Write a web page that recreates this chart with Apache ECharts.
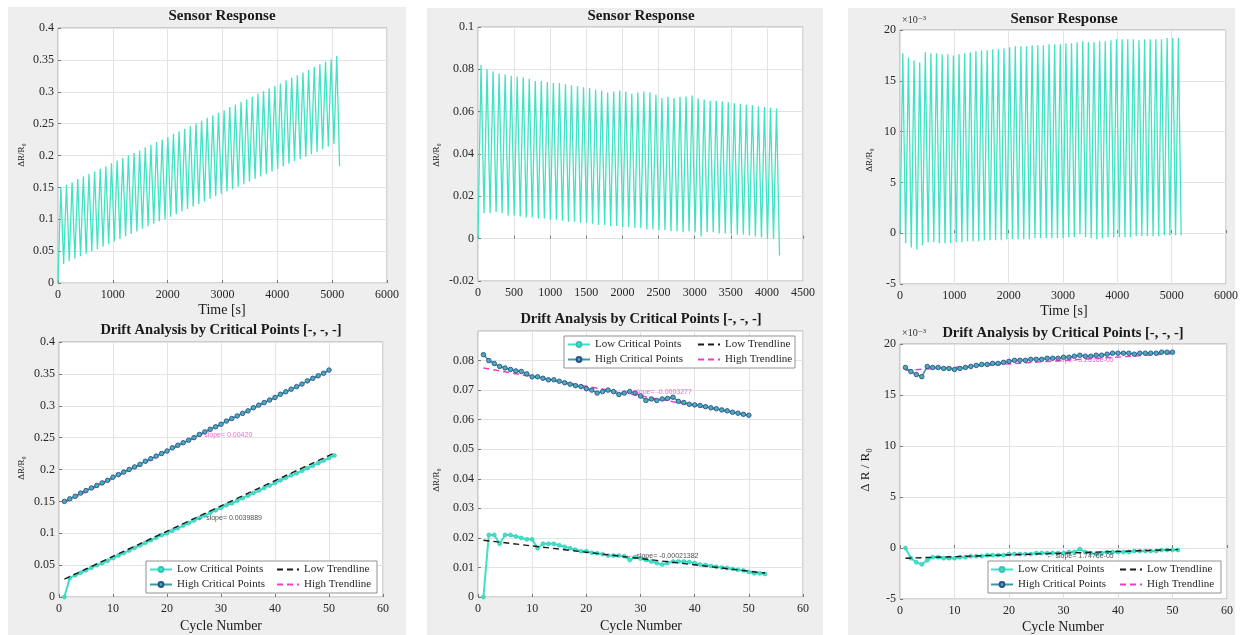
<!DOCTYPE html>
<html><head><meta charset="utf-8">
<script src="https://cdn.jsdelivr.net/npm/echarts@6/dist/echarts.min.js"></script>
<style>
html,body{margin:0;padding:0;background:#fff;width:1241px;height:635px;overflow:hidden}
.panel{position:absolute;background:#eeeeee}
#chart{position:absolute;left:0;top:0;width:1241px;height:635px}
</style></head><body>
<div class="panel" style="left:8px;top:7px;width:398px;height:628px"></div>
<div class="panel" style="left:427px;top:8px;width:396px;height:627px"></div>
<div class="panel" style="left:848px;top:8px;width:387px;height:627px"></div>
<div id="chart"></div>
<script>
// ---------- DATA ----------
// Sensor 1 (left column): high / low critical points per cycle
const leftHigh = [0.150,0.154,0.158,0.163,0.167,0.171,0.175,0.179,0.183,0.188,
 0.192,0.196,0.200,0.204,0.208,0.213,0.217,0.221,0.225,0.229,
 0.234,0.238,0.242,0.246,0.250,0.255,0.259,0.263,0.267,0.271,
 0.276,0.280,0.284,0.288,0.292,0.297,0.301,0.305,0.309,0.313,
 0.318,0.322,0.326,0.330,0.334,0.339,0.343,0.347,0.351,0.356];
const leftLow = [0.000,0.030,0.034,0.038,0.042,0.046,0.050,0.053,0.057,0.061,
 0.065,0.069,0.073,0.077,0.081,0.085,0.089,0.093,0.097,0.100,
 0.104,0.108,0.112,0.116,0.120,0.124,0.128,0.132,0.136,0.140,
 0.144,0.147,0.151,0.155,0.159,0.163,0.167,0.171,0.175,0.179,
 0.183,0.187,0.191,0.194,0.198,0.202,0.206,0.210,0.214,0.218,
 0.222];
const leftPeriod = 102.7;      // s per cycle
const leftEndValue = 0.183;    // last sample of the response
const leftLowTrend = [[1, 0.028], [51, 0.226]];
const leftHighTrend = [[1, 0.148], [50, 0.355]];
const leftNotes = [[26.8, 0.2535, 'slope= 0.00420'], [25.5, 0.124, '\u2190 slope= 0.0039889']];

// Sensor 2 (middle column)
const midHigh = [0.0820,0.0800,0.0790,0.0780,0.0775,0.0770,0.0765,0.0763,0.0755,0.0745,
 0.0745,0.0740,0.0735,0.0735,0.0730,0.0725,0.0720,0.0715,0.0712,0.0705,
 0.0700,0.0690,0.0695,0.0700,0.0695,0.0685,0.0690,0.0695,0.0690,0.0680,
 0.0665,0.0670,0.0665,0.0670,0.0672,0.0676,0.0662,0.0658,0.0652,0.0650,
 0.0648,0.0644,0.0640,0.0637,0.0633,0.0630,0.0625,0.0622,0.0618,0.0615];
const midLow = [0.0000,0.0210,0.0210,0.0180,0.0210,0.0210,0.0205,0.0200,0.0195,0.0195,
 0.0165,0.0180,0.0180,0.0180,0.0175,0.0170,0.0165,0.0160,0.0155,0.0155,
 0.0150,0.0148,0.0145,0.0140,0.0140,0.0140,0.0138,0.0125,0.0135,0.0130,
 0.0125,0.0120,0.0115,0.0110,0.0115,0.0120,0.0120,0.0120,0.0118,0.0115,
 0.0110,0.0108,0.0105,0.0102,0.0100,0.0098,0.0095,0.0092,0.0090,0.0085,
 0.0080,0.0080,0.0078];
const midTroughs = [0,0.012,0.012,0.0125,0.012,0.011,0.011,0.0105,0.010,0.010,
 0.0095,0.0095,0.009,0.009,0.0085,0.008,0.008,0.0075,0.0075,0.007,
 0.0065,0.0065,0.006,0.006,0.0055,0.0055,0.005,0.005,0.0045,0.0045,
 0.004,0.004,0.0035,0.0035,0.003,0.0035,0.003,0.001,0.003,0.003,
 0.0025,0.0025,0.002,0.002,0.002,0.0015,0.001,0.0005,0.0,0.0,
 -0.008];
const midPeriod = 83.5;
const midLowTrend = [[1, 0.0192], [53, 0.0081]];
const midHighTrend = [[1, 0.0775], [50, 0.0615]];
const midNotes = [[27, 0.0693, '\u2190 slope= -0.0003277'], [27.5, 0.0138, '\u2190 slope= -0.00021382']];

// Sensor 3 (right column), values in units of 1e-3
const rightHigh = [17.7,17.3,17.0,16.8,17.8,17.7,17.7,17.6,17.6,17.5,
 17.6,17.7,17.8,17.9,18.0,18.0,18.1,18.1,18.2,18.3,
 18.4,18.4,18.4,18.5,18.5,18.5,18.6,18.6,18.6,18.7,
 18.7,18.8,18.9,18.8,18.8,18.9,18.9,19.0,19.1,19.1,
 19.1,19.1,19.0,19.1,19.1,19.1,19.1,19.2,19.2,19.2];
const rightLow = [0.0,-1.0,-1.4,-1.6,-1.2,-0.9,-0.9,-1.0,-1.0,-1.0,
 -0.9,-0.9,-0.8,-0.8,-0.8,-0.7,-0.7,-0.7,-0.7,-0.6,
 -0.6,-0.6,-0.6,-0.6,-0.5,-0.5,-0.5,-0.5,-0.5,-0.5,
 -0.4,-0.4,-0.1,-0.4,-0.5,-0.6,-0.5,-0.4,-0.4,-0.4,
 -0.4,-0.4,-0.3,-0.3,-0.3,-0.3,-0.3,-0.2,-0.2,-0.2,
 -0.2];
const rightPeriod = 103.5;
const rightLowTrend = [[1, -1.0], [51, -0.15]];
const rightHighTrend = [[1, 17.42], [50, 19.05]];
const rightNotes = [[26.8, 18.46, '\u2190 slope= 3.2618e-05'], [26.8, -0.75, '\u2190 slope= 1.7476e-05']];

// Axis ticks [min, max, step]
const topXTicks = [[0, 6000, 1000], [0, 4500, 500], [0, 6000, 1000]];
const topYTicks = [[0, 0.4, 0.05], [-0.02, 0.1, 0.02], [-5, 20, 5]];
const botXTicks = [[0, 60, 10], [0, 60, 10], [0, 60, 10]];
const botYTicks = [[0, 0.4, 0.05], [0, 0.09, 0.01], [-5, 20, 5]];

const topTitle = 'Sensor Response';
const botTitle = 'Drift Analysis by Critical Points [-, -, -]';
const legendNames = ['Low Critical Points', 'High Critical Points', 'Low Trendline', 'High Trendline'];

// ---------- STYLE ----------
const SERIF = '"Liberation Serif","DejaVu Serif",serif';
const C_WAVE = '#40e3c4';
const C_LOW = '#40e0c8';
const C_HIGH_LINE = '#3a9aa6';
const C_HIGH_DOT = '#4aaeb8';
const C_HIGH_EDGE = '#2a4f8c';
const C_MAG = '#f03cc8';

const grids = [
  {left: 58, top: 28, width: 329, height: 255},
  {left: 478, top: 27, width: 325, height: 254},
  {left: 900, top: 30, width: 328, height: 254},
  {left: 59, top: 342, width: 324, height: 255},
  {left: 478, top: 331, width: 325, height: 266},
  {left: 900, top: 344, width: 327, height: 255}
];

function waveform(period, peaks, troughs) {
  const pts = [[0, troughs[0]]];
  for (let k = 0; k < peaks.length; k++) {
    pts.push([(k + 0.5) * period, peaks[k]]);
    if (k + 1 < troughs.length) pts.push([(k + 1) * period, troughs[k + 1]]);
  }
  return pts;
}
const byCycle = arr => arr.map((v, i) => [i + 1, v]);
const fmt = v => String(+(+v).toFixed(6));

const ticksAll = topXTicks.concat(botXTicks);
const yTicksAll = topYTicks.concat(botYTicks);

const xAxes = ticksAll.map((t, i) => ({
  type: 'value', gridIndex: i, min: t[0], max: t[1], interval: t[2],
  axisLine: {show: false},
  axisTick: {show: true, inside: true, length: 3, lineStyle: {color: '#777'}},
  axisLabel: {fontFamily: SERIF, fontSize: 12, color: '#262626', margin: 6, formatter: fmt},
  splitLine: {show: true, lineStyle: {color: '#e3e3e3', width: 1}}
}));
const yAxes = yTicksAll.map((t, i) => ({
  type: 'value', gridIndex: i, min: t[0], max: t[1], interval: t[2],
  axisLine: {show: false},
  axisTick: {show: true, inside: true, length: 3, lineStyle: {color: '#777'}},
  axisLabel: {fontFamily: SERIF, fontSize: 12, color: '#262626', margin: 4, showMaxLabel: i !== 4, formatter: fmt},
  splitLine: {show: true, lineStyle: {color: '#e3e3e3', width: 1}}
}));

const series = [];
// top waveforms
const waves = [
  waveform(leftPeriod, leftHigh, leftLow.slice(0, leftLow.length - 1).concat([leftEndValue])),
  waveform(midPeriod, midHigh, midTroughs),
  waveform(rightPeriod, rightHigh, rightLow)
];
waves.forEach((w, i) => series.push({
  type: 'line', name: 'wave' + i, xAxisIndex: i, yAxisIndex: i, data: w,
  showSymbol: false, symbol: 'none', silent: true,
  lineStyle: {color: C_WAVE, width: 1.3}, z: 2
}));

const sets = [
  {low: leftLow, high: leftHigh, lt: leftLowTrend, ht: leftHighTrend, notes: leftNotes},
  {low: midLow, high: midHigh, lt: midLowTrend, ht: midHighTrend, notes: midNotes},
  {low: rightLow, high: rightHigh, lt: rightLowTrend, ht: rightHighTrend, notes: rightNotes}
];
sets.forEach((s, j) => {
  const gi = j + 3;
  series.push({
    type: 'line', name: legendNames[0], xAxisIndex: gi, yAxisIndex: gi, data: byCycle(s.low),
    symbol: 'circle', symbolSize: 4, showSymbol: true, silent: true,
    lineStyle: {color: C_LOW, width: 2}, itemStyle: {color: C_LOW, borderColor: '#2fc8b4', borderWidth: 0.6}, z: 3
  });
  series.push({
    type: 'line', name: legendNames[2], xAxisIndex: gi, yAxisIndex: gi, data: s.lt,
    symbol: 'none', showSymbol: false, silent: true,
    lineStyle: {color: '#1a1a1a', width: 1.4, type: [6, 4]}, itemStyle: {color: '#1a1a1a'}, z: 4
  });
  series.push({
    type: 'line', name: legendNames[3], xAxisIndex: gi, yAxisIndex: gi, data: s.ht,
    symbol: 'none', showSymbol: false, silent: true,
    lineStyle: {color: C_MAG, width: 1.4, type: [6, 4]}, itemStyle: {color: C_MAG}, z: 4
  });
  series.push({
    type: 'line', name: legendNames[1], xAxisIndex: gi, yAxisIndex: gi, data: byCycle(s.high),
    symbol: 'circle', symbolSize: 4.5, showSymbol: true, silent: true,
    lineStyle: {color: C_HIGH_LINE, width: 1.6}, itemStyle: {color: C_HIGH_DOT, borderColor: C_HIGH_EDGE, borderWidth: 0.9}, z: 5
  });
  s.notes.forEach((n, k) => series.push({
    type: 'scatter', name: 'note' + j + k, xAxisIndex: gi, yAxisIndex: gi,
    data: [[n[0], n[1]]], symbolSize: 1, itemStyle: {color: 'rgba(0,0,0,0)'}, silent: true, z: 6,
    label: {show: true, position: 'right', distance: 0, formatter: n[2],
      fontFamily: '"Liberation Sans",sans-serif', fontSize: 7, color: k === 0 ? C_MAG : '#222'}
  }));
});

// legends (two columns per bottom chart)
const legendPos = [
  {a: [149, 563], b: [276, 563]},
  {a: [567, 338], b: [697, 338]},
  {a: [990, 563], b: [1119, 563]}
];
const legends = [];
legendPos.forEach(p => {
  const common = {orient: 'vertical', itemWidth: 22, itemHeight: 6, itemGap: 2, padding: 0, z: 60,
    selectedMode: false, textStyle: {fontFamily: SERIF, fontSize: 11, color: '#262626', lineHeight: 13}};
  legends.push(Object.assign({}, common, {left: p.a[0], top: p.a[1], data: [legendNames[0], legendNames[1]]}));
  legends.push(Object.assign({}, common, {left: p.b[0], top: p.b[1],
    data: [{name: legendNames[2], itemStyle: {opacity: 0}}, {name: legendNames[3], itemStyle: {opacity: 0}}]}));
});

// text and frames
function txt(x, y, text, font, opts) {
  return Object.assign({
    type: 'text', x: x, y: y, silent: true, z: 100,
    style: {text: text, font: font, fill: '#1a1a1a', align: 'center', verticalAlign: 'middle',
      textAlign: 'center', textVerticalAlign: 'middle'}
  }, opts || {});
}
function ltxt(x, y, text, font) {
  return {type: 'text', x: x, y: y, silent: true, z: 100,
    style: {text: text, font: font, fill: '#333', align: 'left', verticalAlign: 'middle', textAlign: 'left', textVerticalAlign: 'middle'}};
}
const graphics = [
  {type: 'rect', shape: {x: 146, y: 561, width: 231, height: 32}, style: {fill: '#fff', stroke: '#777', lineWidth: 0.8}, z: 50, silent: true},
  {type: 'rect', shape: {x: 564, y: 336, width: 231, height: 32}, style: {fill: '#fff', stroke: '#777', lineWidth: 0.8}, z: 50, silent: true},
  {type: 'rect', shape: {x: 988, y: 561, width: 233, height: 32}, style: {fill: '#fff', stroke: '#777', lineWidth: 0.8}, z: 50, silent: true},
  txt(222, 16, topTitle, 'bold 15px ' + SERIF),
  txt(641, 16, topTitle, 'bold 15px ' + SERIF),
  txt(1064, 19, topTitle, 'bold 15px ' + SERIF),
  txt(221, 330, botTitle, 'bold 14.5px ' + SERIF),
  txt(641, 319, botTitle, 'bold 14.5px ' + SERIF),
  txt(1063, 333, botTitle, 'bold 14.5px ' + SERIF),
  ltxt(902, 20, '\u00d710\u207b\u00b3', '10px ' + SERIF),
  ltxt(902, 333, '\u00d710\u207b\u00b3', '10px ' + SERIF),
  txt(222, 310, 'Time [s]', '14px ' + SERIF),
  txt(1064, 311, 'Time [s]', '14px ' + SERIF),
  txt(221, 626, 'Cycle Number', '14px ' + SERIF),
  txt(641, 626, 'Cycle Number', '14px ' + SERIF),
  txt(1063, 627, 'Cycle Number', '14px ' + SERIF),
  txt(22, 155, '\u0394R/R\u2080', '9px ' + SERIF, {rotation: Math.PI / 2}),
  txt(437, 155, '\u0394R/R\u2080', '9px ' + SERIF, {rotation: Math.PI / 2}),
  txt(870, 160, '\u0394R/R\u2080', '9px ' + SERIF, {rotation: Math.PI / 2}),
  txt(22, 468, '\u0394R/R\u2080', '9px ' + SERIF, {rotation: Math.PI / 2}),
  txt(437, 480, '\u0394R/R\u2080', '9px ' + SERIF, {rotation: Math.PI / 2}),
  txt(866, 470, '\u0394 R / R\u2080', '13px ' + SERIF, {rotation: Math.PI / 2})
];

const chart = echarts.init(document.getElementById('chart'), null, {renderer: 'canvas'});
chart.setOption({
  backgroundColor: 'transparent',
  animation: false,
  grid: grids.map(g => Object.assign({show: true, backgroundColor: '#fff', borderColor: '#aaaaaa', borderWidth: 1}, g)),
  xAxis: xAxes,
  yAxis: yAxes,
  legend: legends,
  series: series,
  graphic: graphics
});
</script>
</body></html>
